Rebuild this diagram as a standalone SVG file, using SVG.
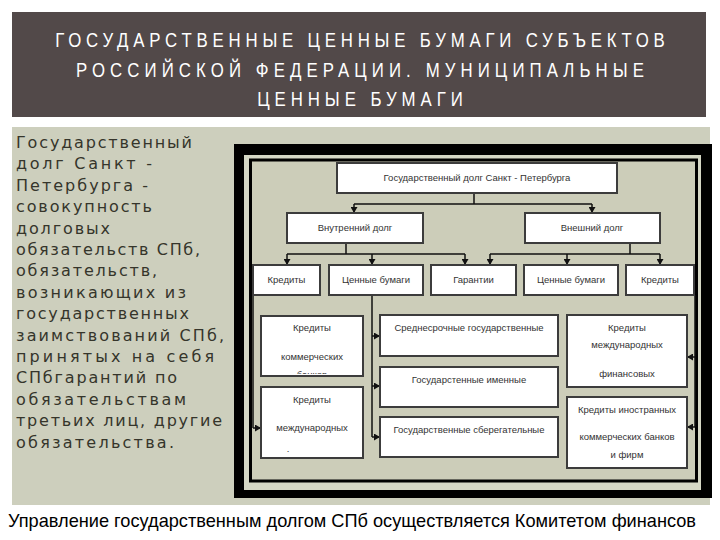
<svg xmlns="http://www.w3.org/2000/svg" width="720" height="540" viewBox="0 0 720 540">
<style>
.title{font-family:"Liberation Sans","DejaVu Sans",sans-serif;font-size:21px;fill:#ffffff;text-anchor:middle}
.side{font-family:"DejaVu Sans","Liberation Sans",sans-serif;font-size:16px;fill:#35352b}
.box{fill:#ffffff;stroke:#3c3c3c;stroke-width:2}
.lbl{font-family:"Liberation Sans","Open Sans",sans-serif;font-size:9.5px;fill:#333333;text-anchor:middle}
.con{fill:none;stroke:#111111;stroke-width:1.5}
.foot{font-family:"Liberation Sans",Arial,sans-serif;font-size:18.5px;fill:#000000}
</style>
<defs>
<marker id="ah" markerUnits="userSpaceOnUse" markerWidth="7" markerHeight="7" refX="6" refY="3.5" orient="auto">
<path d="M0,0 L6,3.5 L0,7 z" fill="#111111"/>
</marker>
<clipPath id="clipL1"><rect x="262" y="317" width="101" height="57"/></clipPath>
</defs>
<rect width="720" height="540" fill="#ffffff"/>
<g id="title">
<rect x="12" y="12" width="694" height="105" fill="#524949"/>
<g transform="translate(360,0) scale(0.8,1)">
<text class="title" x="0" y="47" textLength="762" lengthAdjust="spacing">ГОСУДАРСТВЕННЫЕ ЦЕННЫЕ БУМАГИ СУБЪЕКТОВ</text>
<text class="title" x="0" y="77" textLength="710" lengthAdjust="spacing">РОССИЙСКОЙ ФЕДЕРАЦИИ. МУНИЦИПАЛЬНЫЕ</text>
<text class="title" x="0" y="106" textLength="257" lengthAdjust="spacing">ЦЕННЫЕ БУМАГИ</text>
</g>
</g>
<rect x="12" y="127" width="698" height="378" fill="#cdcfbd"/>
<g id="definition">
<text class="side" x="16" y="148" textLength="176" lengthAdjust="spacing">Государственный</text>
<text class="side" x="16" y="169.4" textLength="136" lengthAdjust="spacing">долг Санкт -</text>
<text class="side" x="16" y="190.8" textLength="132" lengthAdjust="spacing">Петербурга -</text>
<text class="side" x="16" y="212.2" textLength="136" lengthAdjust="spacing">совокупность</text>
<text class="side" x="16" y="233.6" textLength="94" lengthAdjust="spacing">долговых</text>
<text class="side" x="16" y="255" textLength="184" lengthAdjust="spacing">обязательств СПб,</text>
<text class="side" x="16" y="276.4" textLength="141" lengthAdjust="spacing">обязательств,</text>
<text class="side" x="16" y="297.8" textLength="170" lengthAdjust="spacing">возникающих из</text>
<text class="side" x="16" y="319.2" textLength="173" lengthAdjust="spacing">государственных</text>
<text class="side" x="16" y="340.6" textLength="208" lengthAdjust="spacing">заимствований СПб,</text>
<text class="side" x="16" y="362" textLength="198" lengthAdjust="spacing">принятых на себя</text>
<text class="side" x="16" y="383.4" textLength="161" lengthAdjust="spacing">СПбгарантий по</text>
<text class="side" x="16" y="404.8" textLength="170" lengthAdjust="spacing">обязательствам</text>
<text class="side" x="16" y="426.2" textLength="206" lengthAdjust="spacing">третьих лиц, другие</text>
<text class="side" x="16" y="447.6" textLength="158" lengthAdjust="spacing">обязательства.</text>
</g>
<g id="frame">
<rect x="234" y="144" width="478" height="354" fill="#000000"/>
<rect x="244" y="155" width="457" height="335" fill="#d5d7c5"/>
<rect x="250.5" y="160" width="446" height="321" fill="#cccdb9" stroke="#000000" stroke-width="3"/>
</g>
<g id="connectors">
<path class="con" d="M474,193 V204 M354,204 H592"/>
<path class="con" d="M354,204 V213" marker-end="url(#ah)"/>
<path class="con" d="M592,204 V213" marker-end="url(#ah)"/>
<path class="con" d="M346,243 V254 M287,254 H465"/>
<path class="con" d="M287,254 V265" marker-end="url(#ah)"/>
<path class="con" d="M372,254 V265" marker-end="url(#ah)"/>
<path class="con" d="M465,254 V265" marker-end="url(#ah)"/>
<path class="con" d="M630,243 V254 M490,254 H660"/>
<path class="con" d="M490,254 V265" marker-end="url(#ah)"/>
<path class="con" d="M567,254 V265" marker-end="url(#ah)"/>
<path class="con" d="M660,254 V265" marker-end="url(#ah)"/>
<path class="con" d="M372,295 V437"/>
<path class="con" d="M372,336 H380" marker-end="url(#ah)"/>
<path class="con" d="M372,386 H380" marker-end="url(#ah)"/>
<path class="con" d="M372,437 H380" marker-end="url(#ah)"/>
<path class="con" d="M253,295 V428"/>
<path class="con" d="M253,428 H261" marker-end="url(#ah)"/>
<path class="con" d="M695,295 V427"/>
<path class="con" d="M695,357 H687" marker-end="url(#ah)"/>
<path class="con" d="M695,427 H687" marker-end="url(#ah)"/>
</g>
<g id="n-root"><rect class="box" x="337" y="163" width="280" height="30"/><text class="lbl" x="477" y="181">Государственный долг Санкт - Петербурга</text></g>
<g id="n-internal"><rect class="box" x="287" y="213" width="136" height="30"/><text class="lbl" x="355" y="231">Внутренний долг</text></g>
<g id="n-external"><rect class="box" x="525" y="213" width="135" height="30"/><text class="lbl" x="592" y="231">Внешний долг</text></g>
<g id="n-credits-1"><rect class="box" x="253" y="265" width="67" height="30"/><text class="lbl" x="286.5" y="283">Кредиты</text></g>
<g id="n-securities-1"><rect class="box" x="329" y="265" width="94" height="30"/><text class="lbl" x="376" y="283">Ценные бумаги</text></g>
<g id="n-guarantees"><rect class="box" x="431" y="265" width="85" height="30"/><text class="lbl" x="473.5" y="283">Гарантии</text></g>
<g id="n-securities-2"><rect class="box" x="524" y="265" width="94" height="30"/><text class="lbl" x="571" y="283">Ценные бумаги</text></g>
<g id="n-credits-2"><rect class="box" x="626" y="265" width="68" height="30"/><text class="lbl" x="660" y="283">Кредиты</text></g>
<g id="n-commercial-banks"><rect class="box" x="261" y="316" width="102" height="60"/>
<text class="lbl" x="312" y="331">Кредиты</text><text class="lbl" x="312" y="360">коммерческих</text>
<text class="lbl" x="312" y="378" clip-path="url(#clipL1)">банков</text></g>
<g id="n-international-1"><rect class="box" x="261" y="387" width="102" height="71"/>
<text class="lbl" x="312" y="403">Кредиты</text><text class="lbl" x="312" y="431">международных</text>
<text class="lbl" x="288" y="452">.</text></g>
<g id="n-medium-term"><rect class="box" x="380" y="315" width="178" height="41"/><text class="lbl" x="469" y="331">Среднесрочные государственные</text></g>
<g id="n-registered"><rect class="box" x="380" y="367" width="178" height="40"/><text class="lbl" x="469" y="383">Государстенные именные</text></g>
<g id="n-savings"><rect class="box" x="380" y="417" width="178" height="40"/><text class="lbl" x="469" y="433">Государственные сберегательные</text></g>
<g id="n-international-fin"><rect class="box" x="567" y="315" width="120" height="72"/>
<text class="lbl" x="627" y="331">Кредиты</text><text class="lbl" x="627" y="348">международных</text><text class="lbl" x="627" y="377">финансовых</text></g>
<g id="n-foreign-banks"><rect class="box" x="567" y="397" width="120" height="71"/>
<text class="lbl" x="627" y="413">Кредиты иностранных</text><text class="lbl" x="627" y="440">коммерческих банков</text><text class="lbl" x="627" y="458">и фирм</text></g>
<g id="footer"><text class="foot" x="8" y="527" textLength="688" lengthAdjust="spacingAndGlyphs">Управление государственным долгом СПб осуществляется Комитетом финансов</text></g>
</svg>
